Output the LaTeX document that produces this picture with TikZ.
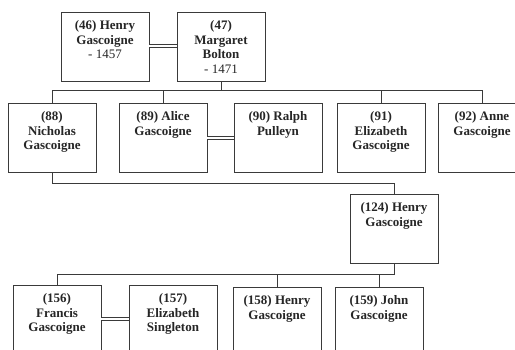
\documentclass[tikz,border=0pt]{standalone}
\usepackage{fontspec}
\setmainfont{Liberation Serif}
\definecolor{linegray}{HTML}{3A3A3A}
\tikzset{
  personbox/.style={draw=linegray, line width=0.9pt, fill=white, minimum width=88pt,
    minimum height=69pt, inner sep=0pt, anchor=north},
  persontext/.style={anchor=north, align=center, inner sep=0pt,
    font=\fontsize{13}{14.5}\selectfont\bfseries, text=black!85},
  tie/.style={draw=linegray, line width=0.7pt},
  marriage/.style={draw=linegray, line width=0.7pt, double=white, double distance=2pt},
}
% a person: name, top-centre x, top y, label
\newcommand{\person}[4]{%
  \node[personbox] (#1) at (#2,#3) {};
  \node[persontext] (#1t) at ([yshift=-8.5pt]#1.north) {#4};
}
\begin{document}
\begin{tikzpicture}[x=1pt,y=-1pt]
\useasboundingbox (0,0) rectangle (515,349);
\begin{scope}
\clip (0,0) rectangle (515,349);

% generation 1
\person{p46}{105}{12}{(46) Henry\\Gascoigne\\\mdseries - 1457}
\person{p47}{221}{12}{(47)\\Margaret\\Bolton\\\mdseries - 1471}
\draw[marriage] (p46.east |- 0,46) -- (p47.west |- 0,46);

% generation 2
\coordinate (g2bar) at (221,90);
\person{p88}{52}{103}{(88)\\Nicholas\\Gascoigne}
\person{p89}{163}{103}{(89) Alice\\Gascoigne}
\person{p90}{278}{103}{(90) Ralph\\Pulleyn}
\person{p91}{381}{103}{(91)\\Elizabeth\\Gascoigne}
\person{p92}{482}{103}{(92) Anne\\Gascoigne}
\draw[tie] (p47.south) -- (g2bar);
\draw[tie] (p88.north) |- (p92.north |- g2bar) -- (p92.north);
\draw[tie] (p89.north) -- (p89.north |- g2bar);
\draw[tie] (p91.north) -- (p91.north |- g2bar);
\draw[marriage] (p89.east |- 0,138) -- (p90.west |- 0,138);

% generation 3
\person{p124}{394}{194}{(124) Henry\\Gascoigne}
\coordinate (g3bar) at (0,183);
\draw[tie] (p88.south) |- (p124.north |- g3bar) -- (p124.north);

% generation 4
\coordinate (g4bar) at (0,274);
\person{p156}{57}{285}{(156)\\Francis\\Gascoigne}
\person{p157}{173}{285}{(157)\\Elizabeth\\Singleton}
\person{p158}{277}{287}{(158) Henry\\Gascoigne}
\person{p159}{379}{287}{(159) John\\Gascoigne}
\draw[tie] (p124.south) |- (p156.north |- g4bar) -- (p156.north);
\draw[tie] (p158.north) -- (p158.north |- g4bar);
\draw[tie] (p159.north) -- (p159.north |- g4bar);
\draw[marriage] (p156.east |- 0,319) -- (p157.west |- 0,319);
\end{scope}
\end{tikzpicture}
\end{document}
